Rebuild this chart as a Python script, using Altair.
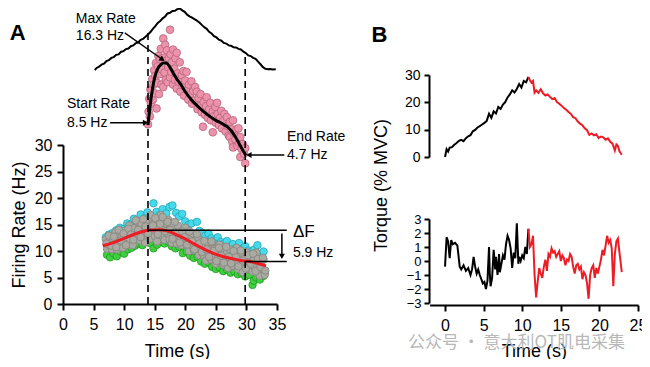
import altair as alt
import pandas as pd

FONT = "Liberation Sans"

# ---------------- data ----------------
# Panel A: torque trace (% MVC) drawn above the firing-rate plot
torque_a = [(5.2,0.0),(5.5,1.0),(5.9,1.6),(6.3,2.6),(6.7,3.1),(7.1,4.3),(7.5,4.8),(7.9,5.9),(8.3,6.3),
            (8.7,7.4),(9.1,7.6),(9.5,8.9),(9.9,9.2),(10.3,10.2),(10.7,10.5),(11.1,11.6),(11.5,12.0),
            (11.9,13.1),(12.3,13.4),(12.7,14.7),(13.1,15.2),(13.5,16.2),(13.9,17.3),(14.3,18.5),
            (14.7,20.1),(15.1,21.4),(15.5,23.0),(15.9,23.9),(16.3,25.2),(16.7,26.1),(17.1,27.6),
            (17.5,27.9),(17.9,28.8),(18.3,28.9),(18.7,29.7),(19.1,30.0),(19.5,29.1),(19.9,28.4),
            (20.3,27.0),(20.7,26.2),(21.1,25.5),(21.5,24.8),(21.9,24.1),(22.3,23.2),(22.7,22.0),
            (23.1,20.9),(23.5,20.1),(23.9,18.6),(24.3,17.8),(24.7,16.5),(25.1,15.9),(25.5,14.8),
            (25.9,14.3),(26.3,13.2),(26.7,12.9),(27.1,12.0),(27.5,11.8),(27.9,11.1),(28.3,11.0),
            (28.7,10.3),(29.1,10.0),(29.5,8.9),(29.9,8.3),(30.3,7.1),(30.7,6.8),(31.1,5.9),(31.5,5.4),
            (31.9,4.1),(32.3,2.8),(32.7,1.4),(33.1,0.6),(33.5,0.4),(33.9,0.5),(34.3,0.3),(34.8,0.4)]

# Panel A: single motor unit (pink), rate in Hz
pink_units = [(13.9,8.6),(14.0,10.2),(14.1,11.8),(14.2,9.6),(14.3,13.0),(14.4,11.2),(14.5,12.9),
              (14.6,14.3),(14.7,11.7),(14.8,13.6),(14.9,15.4),(15.0,12.5),(15.1,14.7),(15.2,16.3),
              (15.3,10.6),(15.4,13.8),(15.5,15.9),(15.6,17.2),(15.7,12.4),(15.8,14.9),(15.9,16.8),
              (16.0,18.1),(16.1,13.6),(16.2,15.5),(16.4,19.4),(16.4,13.3),(16.5,17.0),(16.6,15.1),
              (16.7,18.6),(16.8,14.2),(16.9,16.6),(17.0,17.9),(17.1,13.9),(17.2,15.8),(17.3,16.9),
              (17.5,20.5),(17.5,14.5),(17.6,17.4),(17.7,15.2),(17.8,16.4),(18.0,18.0),(18.0,13.6),
              (18.2,15.6),(18.3,14.2),(18.4,16.9),(18.6,17.6),(18.6,13.1),(18.8,15.0),(18.9,14.0),
              (19.1,16.4),(19.2,12.7),(19.4,14.8),(19.5,13.5),(19.7,15.3),(19.8,12.2),(20.0,14.1),
              (20.2,15.2),(20.3,12.9),(20.5,11.7),(20.6,13.6),(20.8,12.4),(21.0,14.0),(21.1,11.2),
              (21.3,12.8),(21.5,11.6),(21.6,13.3),(21.9,12.7),(22.0,10.5),(22.2,11.9),(22.4,10.9),
              (22.5,12.4),(22.7,10.1),(22.9,8.3),(23.0,11.4),(23.2,9.8),(23.4,10.9),(23.5,12.0),
              (23.7,9.4),(23.9,10.5),(24.1,11.3),(24.2,9.1),(24.5,7.6),(24.5,10.2),(24.7,9.6),
              (24.9,10.8),(25.0,8.8),(25.2,11.3),(25.3,9.9),(25.5,8.5),(25.7,9.4),(25.9,10.3),
              (26.0,8.1),(26.2,9.0),(26.4,9.9),(26.6,7.7),(26.8,9.5),(26.9,8.4),(27.1,7.2),(27.3,8.9),
              (27.3,7.0),(27.5,8.0),(27.7,6.4),(27.8,9.1),(27.8,5.7),(28.0,7.5),(28.2,6.7),(28.4,8.0),
              (28.5,5.9),(28.7,8.1),(28.8,6.3),(29.0,7.0),(29.0,4.5),(29.2,5.5),(29.4,6.1),(29.6,4.9),
              (29.8,3.7),(29.8,5.6)]

rate_fit = [(13.9,8.5),(14.2,10.6),(14.6,12.9),(15.0,14.5),(15.5,15.6),(16.0,16.1),(16.5,16.3),
            (16.9,16.3),(17.4,15.9),(18.0,15.1),(18.6,14.3),(19.2,13.7),(20.0,12.7),(21.0,11.7),
            (22.0,10.9),(23.0,10.2),(24.0,9.6),(25.0,9.1),(26.0,8.7),(27.0,8.2),(27.6,7.7),
            (28.2,7.0),(28.8,6.2),(29.3,5.5),(29.9,4.7)]

cyan_units = [(7.0,12.6),(7.5,13.1),(8.1,13.4),(8.7,13.9),(9.3,14.4),(9.9,14.1),(10.5,15.2),(11.1,15.0),
              (11.6,16.1),(12.2,15.7),(12.7,16.9),(13.3,16.2),(13.8,17.3),(14.3,16.6),(14.8,19.0),
              (15.3,17.4),(15.8,16.8),(16.3,17.9),(16.9,17.1),(17.4,18.3),(17.9,18.6),(18.5,17.2),
              (19.0,16.5),(19.5,17.0),(20.0,15.6),(20.5,14.9),(21.0,15.2),(21.9,15.5),(22.3,13.8),
              (22.8,13.4),(23.3,12.9),(23.8,13.3),(24.3,12.4),(24.8,12.0),(25.3,12.6),(25.8,11.7),
              (26.3,11.4),(26.8,11.9),(27.3,10.9),(27.8,11.3),(28.3,10.6),(28.8,11.5),(29.3,10.4),
              (29.8,10.9),(30.3,10.1),(30.8,9.8),(31.3,10.3),(31.8,11.1),(32.3,9.5),(32.8,9.9)]

green_units = [(7.2,9.3),(7.7,8.8),(8.2,9.6),(8.8,9.0),(9.4,9.9),(10.0,9.5),(10.6,10.3),(11.2,10.6),
               (11.8,11.0),(12.4,11.4),(13.0,11.1),(13.6,11.8),(14.2,11.5),(14.8,10.5),(15.4,11.2),
               (16.0,12.0),(16.6,11.4),(17.2,11.8),(17.8,10.9),(18.4,10.5),(19.0,10.8),(19.6,9.6),
               (20.2,9.9),(20.8,9.1),(21.4,8.7),(22.0,8.9),(22.6,8.0),(23.2,7.6),(23.8,7.9),(24.4,7.0),
               (25.0,6.6),(25.6,6.9),(26.2,6.2),(26.8,6.5),(27.4,5.9),(28.0,6.2),(28.6,5.6),(29.2,5.8),
               (29.8,5.2),(30.4,5.5),(31.0,3.6),(31.2,4.4),(31.6,5.0),(32.2,4.6),(32.8,5.3),(33.0,6.0)]

grey_units = [(7.0,12.2),(7.2,10.4),(7.4,11.7),(7.6,11.1),(7.8,12.9),(8.0,10.3),(8.2,12.2),(8.4,11.2),
              (8.6,13.6),(8.8,10.3),(9.0,12.1),(9.2,13.1),(9.4,11.2),(9.6,12.7),(9.8,10.6),(10.0,13.8),
              (10.2,12.1),(10.4,13.5),(10.6,11.4),(10.8,14.8),(11.0,12.2),(11.2,13.2),(11.4,11.1),
              (11.6,14.3),(11.8,12.4),(12.0,15.6),(12.2,13.2),(12.4,14.2),(12.6,12.0),(12.8,15.2),
              (13.0,12.9),(13.2,14.1),(13.4,11.6),(13.6,15.7),(13.8,13.0),(14.0,14.5),(14.2,12.3),
              (14.4,16.3),(14.6,13.7),(14.8,15.1),(15.0,12.8),(15.2,14.2),(15.4,11.8),(15.6,15.7),
              (15.8,13.5),(16.0,16.8),(16.2,12.9),(16.4,14.6),(16.6,12.1),(16.8,15.2),(17.0,13.4),
              (17.2,15.9),(17.4,12.2),(17.6,14.4),(17.8,11.5),(18.0,15.0),(18.2,12.7),(18.4,13.5),
              (18.6,11.4),(18.8,14.8),(19.0,12.0),(19.2,13.3),(19.4,11.1),(19.6,13.9),(19.8,12.2),
              (20.0,14.4),(20.2,11.1),(20.4,12.5),(20.6,10.0),(20.8,13.0),(21.0,11.1),(21.2,13.3),
              (21.4,10.1),(21.6,11.9),(21.8,10.2),(22.0,12.6),(22.2,9.2),(22.4,11.1),(22.6,10.2),
              (22.8,11.8),(23.0,9.2),(23.2,11.1),(23.4,8.2),(23.6,11.6),(23.8,9.4),(24.0,10.3),
              (24.2,8.4),(24.4,11.6),(24.6,8.9),(24.8,10.4),(25.0,7.6),(25.2,10.5),(25.4,8.9),
              (25.6,11.2),(25.8,8.0),(26.0,9.6),(26.2,7.4),(26.4,10.3),(26.6,8.3),(26.8,9.7),
              (27.0,6.8),(27.2,10.4),(27.4,7.8),(27.6,8.9),(27.8,7.2),(28.0,9.6),(28.2,8.0),
              (28.4,10.6),(28.6,6.6),(28.8,9.0),(29.0,7.2),(29.2,9.7),(29.4,6.0),(29.6,8.5),
              (29.8,7.5),(30.0,9.8),(30.2,6.6),(30.4,8.9),(30.6,7.7),(30.8,9.2),(31.0,6.1),
              (31.2,8.3),(31.4,6.8),(31.6,9.7),(31.8,6.4),(32.0,8.4),(32.2,5.3),(32.4,7.8),
              (32.6,6.7),(32.8,8.4),(33.0,5.5),
              (7.1,11.4),(7.5,12.9),(7.9,11.0),(8.3,12.7),(8.7,10.7),(9.1,14.0),(9.5,12.0),(9.9,13.3),
              (10.3,11.1),(10.7,14.2),(11.1,13.1),(11.5,12.1),(11.9,15.8),(12.3,14.0),(12.7,12.6),
              (13.1,16.0),(13.5,14.6),(13.9,13.3),(14.3,16.8),(14.7,14.8),(15.1,16.2),(15.5,13.2),
              (15.9,15.1),(16.3,16.4),(16.7,13.7),(17.1,15.5),(17.5,14.0),(17.9,12.3),(18.3,15.5),
              (18.7,13.5),(19.1,11.6),(19.5,13.7),(19.9,12.6),(20.3,11.2),(20.7,13.7),(21.1,11.8),
              (21.5,10.3),(21.9,13.2),(22.3,11.4),(22.7,9.8),(23.1,11.9),(23.5,10.3),(23.9,8.9),
              (24.3,11.8),(24.7,10.0),(25.1,8.1),(25.5,10.6),(25.9,9.1),(26.3,7.8),(26.7,10.8),
              (27.1,8.9),(27.5,7.7),(27.9,10.0),(28.3,8.8),(28.7,7.1),(29.1,10.1),(29.5,8.2),
              (29.9,6.7),(30.3,9.2),(30.7,7.6),(31.1,9.5),(31.5,6.2),(31.9,8.5),(32.3,7.0),
              (32.7,8.7),(33.1,6.3)]

red_fit = [(6.5,11.0),(8.0,11.5),(10.0,12.4),(12.0,13.3),(14.0,13.9),(15.5,14.0),(17.0,13.8),
           (18.5,13.1),(20.0,12.3),(21.5,11.3),(23.0,10.4),(24.5,9.6),(26.0,9.0),(27.5,8.6),
           (29.0,8.2),(30.5,8.0),(32.0,7.6),(33.2,7.2)]

# Panel B: torque (% MVC), ascending (black) and descending (red) halves
torque_b_up = [(0.0,0.0),(0.2,2.9),(0.4,2.0),(0.6,3.4),(0.9,3.6),(1.2,4.5),(1.5,5.1),(1.8,5.9),
               (2.1,6.3),(2.4,5.8),(2.7,6.9),(3.0,7.6),(3.3,8.0),(3.6,9.4),(3.9,9.9),(4.2,10.8),
               (4.5,11.3),(4.8,11.9),(5.1,12.5),(5.4,13.2),(5.7,15.8),(6.0,14.3),(6.3,16.7),
               (6.6,15.9),(6.9,18.3),(7.2,17.6),(7.5,19.2),(7.8,20.1),(8.1,21.8),(8.4,22.9),
               (8.7,24.4),(9.0,23.6),(9.3,24.9),(9.6,26.7),(9.9,25.4),(10.2,27.8),(10.5,27.3),
               (10.8,29.3)]
torque_b_down = [(10.8,29.3),(11.0,28.1),(11.2,27.2),(11.4,27.8),(11.6,23.6),(11.8,24.4),(12.1,23.5),
                 (12.4,24.8),(12.7,23.3),(13.0,22.5),(13.3,22.9),(13.6,22.0),(13.9,21.2),(14.2,21.6),
                 (14.5,20.1),(14.8,19.5),(15.1,18.8),(15.4,17.9),(15.7,17.3),(16.0,16.5),(16.3,15.8),
                 (16.6,14.6),(16.9,14.2),(17.2,13.0),(17.5,12.2),(17.8,11.6),(18.1,10.5),(18.4,9.8),
                 (18.7,8.1),(19.0,8.6),(19.3,7.9),(19.6,8.3),(19.9,6.9),(20.2,7.5),(20.5,7.2),
                 (20.8,6.3),(21.1,6.8),(21.4,5.6),(21.7,4.9),(22.0,2.4),(22.2,4.6),(22.4,4.0),
                 (22.6,2.1),(22.9,0.8)]

# Panel B: torque fluctuations
fluct_b_up = [(0.0,-0.4),(0.2,1.7),(0.4,1.4),(0.6,0.2),(0.8,1.5),(1.0,1.2),(1.3,1.3),(1.6,1.1),
              (1.9,-0.4),(2.1,-0.6),(2.4,-0.3),(2.7,-0.7),(3.0,-0.5),(3.3,-1.0),(3.5,-0.6),(3.7,0.3),
              (3.9,-0.4),(4.1,-0.9),(4.3,-0.6),(4.5,-1.0),(4.7,-1.3),(4.9,-1.6),(5.1,-1.5),(5.3,-2.0),
              (5.5,-1.4),(5.7,1.0),(5.8,-0.9),(5.9,-1.8),(6.1,-1.2),(6.3,0.8),(6.5,-0.6),(6.6,0.3),
              (6.8,-1.0),(7.0,0.5),(7.1,-0.8),(7.3,-0.2),(7.5,0.4),(7.7,0.1),(7.9,1.2),(8.1,1.8),
              (8.3,1.5),(8.5,0.9),(8.7,-0.5),(8.9,0.6),(9.1,0.2),(9.3,2.7),(9.5,-0.2),(9.6,0.3),
              (9.8,0.0),(10.0,0.4),(10.2,0.2),(10.4,1.0),(10.6,0.5),(10.8,2.3)]
fluct_b_down = [(10.8,2.3),(11.0,1.0),(11.2,1.2),(11.4,1.8),(11.6,-1.0),(11.8,-2.6),(12.0,-1.5),
                (12.2,-0.5),(12.4,-0.9),(12.6,-1.2),(12.8,-0.4),(13.0,0.1),(13.2,-0.7),(13.4,0.5),
                (13.6,0.3),(13.8,0.9),(14.0,0.6),(14.2,0.7),(14.4,0.3),(14.6,0.5),(14.8,0.7),
                (15.0,0.0),(15.2,0.4),(15.4,0.2),(15.6,-0.3),(15.8,0.1),(16.0,0.0),(16.2,0.5),
                (16.4,0.3),(16.6,-0.4),(16.8,-0.9),(17.0,-0.3),(17.2,-0.2),(17.4,-0.6),(17.6,-0.4),
                (17.8,-1.3),(18.0,-0.8),(18.2,-1.0),(18.4,-1.6),(18.6,-2.7),(18.8,-1.0),(19.0,-0.5),
                (19.2,-0.3),(19.4,-1.2),(19.6,-0.5),(19.8,-0.9),(20.0,-0.4),(20.2,0.1),(20.4,0.8),
                (20.6,0.4),(20.8,1.1),(21.0,1.8),(21.2,1.3),(21.4,1.5),(21.6,0.9),(21.8,-1.8),
                (22.0,0.5),(22.2,1.4),(22.4,1.6),(22.6,0.6),(22.9,-0.8)]

# reference times / rates used by annotations
t_start, t_end = 13.9, 29.8
peak_rate, end_rate = 13.9, 8.0

x_ticks_a = [0, 5, 10, 15, 20, 25, 30, 35]
y_ticks_a = [0, 5, 10, 15, 20, 25, 30]
x_ticks_b = [0, 5, 10, 15, 20, 25]
y_ticks_b_top = [0, 10, 20, 30]
y_ticks_b_bot = [-3, -2, -1, 0, 1, 2, 3]

# ---------------- scales (domain -> pixel range inside the view) ----------------
XA = ([0, 35], [0, 214])
YHZ = ([0, 30], [296, 137])
YPINK = ([0, 20], [184.7, 25.7])
YTQA = ([0, 30], [62, 0.5])
XB = ([-2, 25], [366.6, 575])
YBT = ([0, 30], [149, 67])
YBB = ([-3, 3], [295, 211])


def sc(s):
    return alt.Scale(domain=s[0], range=s[1], nice=False, zero=False)


def X(f, s, axis=None):
    return alt.X(f, type="quantitative", scale=sc(s), axis=axis)


def Y(f, s, axis=None):
    return alt.Y(f, type="quantitative", scale=sc(s), axis=axis)


def frame(pairs, a="t", b="v"):
    return pd.DataFrame(pairs, columns=[a, b])


def line(pairs, xs, ys, color, width=2, interp="linear", xaxis=None, yaxis=None):
    return alt.Chart(frame(pairs)).mark_line(color=color, strokeWidth=width, interpolate=interp).encode(
        x=X("t", xs, xaxis), y=Y("v", ys, yaxis), order="idx:Q"
    ).transform_window(idx="row_number()")


def dots(pairs, fill, stroke, xaxis=None, yaxis=None, ys=YHZ, size=56):
    return alt.Chart(frame(pairs)).mark_circle(size=size, color=fill, stroke=stroke, strokeWidth=0.8,
                                               opacity=1).encode(
        x=X("t", XA, xaxis), y=Y("v", ys, yaxis)
    )


def texts(rows, xs, ys, size=14, weight="normal", color="black", font=FONT, align="left"):
    d = pd.DataFrame(rows, columns=["t", "v", "label"])
    return alt.Chart(d).mark_text(align=align, baseline="middle", fontSize=size, fontWeight=weight,
                                  color=color, font=font).encode(
        x=X("t", xs), y=Y("v", ys), text="label:N")


def segs(rows, xs, ys, dash=None, width=1.5):
    d = pd.DataFrame(rows, columns=["t", "v", "t2", "v2"])
    kw = dict(color="black", strokeWidth=width)
    if dash:
        kw["strokeDash"] = dash
    return alt.Chart(d).mark_rule(**kw).encode(x=X("t", xs), y=Y("v", ys), x2="t2", y2="v2")


def heads(rows, xs, ys):
    d = pd.DataFrame(rows, columns=["t", "v", "shape", "ang"])
    return alt.Chart(d).mark_point(filled=True, color="black", size=38, opacity=1).encode(
        x=X("t", xs), y=Y("v", ys), shape=alt.Shape("shape:N", scale=None), angle=alt.Angle("ang:Q", scale=None))


common = dict(domainColor="black", tickColor="black", labelColor="black", titleColor="black",
              labelFont=FONT, titleFont=FONT, grid=False, labelFlush=False, labelOverlap=False,
              domainWidth=2, tickWidth=2, titleFontWeight="normal")

axA_x = alt.Axis(orient="bottom", values=x_ticks_a, title="Time (s)", tickSize=6, labelFontSize=16,
                 labelPadding=6, titleFontSize=18, titleX=114, titleY=38, **common)
axA_y = alt.Axis(orient="left", values=y_ticks_a, title="Firing Rate (Hz)", tickSize=6, labelFontSize=16,
                 labelPadding=5, titleFontSize=18, titlePadding=6, **common)
axB_x = alt.Axis(orient="bottom", offset=1, values=x_ticks_b, title="Time (s)", tickSize=6, labelFontSize=16,
                 labelPadding=6, titleFontSize=18, titleY=37, **common)
axB_yt = alt.Axis(orient="left", offset=-366, values=y_ticks_b_top, title="Torque (% MVC)", tickSize=5,
                  labelFontSize=14, labelPadding=4, titleFontSize=18, titleX=-39, titleY=177, **common)
axB_yb = alt.Axis(orient="left", offset=-366, values=y_ticks_b_bot, title=None, tickSize=5,
                  labelFontSize=13, labelPadding=3, **common)

layers = [
    # panel A torque trace
    line(torque_a, XA, YTQA, "black", 2),
    # single motor unit + fit
    dots(pink_units, "#ec93ab", "#b8637c", ys=YPINK, size=60),
    line(rate_fit, XA, YPINK, "black", 3, "monotone"),
    # pooled units
    dots(cyan_units, "#46d9ea", "#25a6b6"),
    dots(green_units, "#3fd03f", "#229922"),
    dots(grey_units, "#aaa9a2", "#85857f", xaxis=axA_x, yaxis=axA_y),
    line(red_fit, XA, YHZ, "#ee1c24", 3, "monotone"),
    # dashed markers at start/end of recruitment window
    segs([(t_start, 0, t_start, 51.9), (t_end, 0, t_end, 47.5)], XA, YHZ, dash=[7, 5], width=1.6),
    # delta F bracket
    segs([(t_start, peak_rate, 36.6, peak_rate), (t_end, end_rate, 36.6, end_rate),
          (35.8, 13.3, 35.8, 9.2)], XA, YHZ),
    heads([(35.8, 9.0, "triangle-down", 0)], XA, YHZ),
    texts([(37.6, 13.5, "\u0394F")], XA, YHZ, size=17),
    texts([(37.6, 9.6, "5.9 Hz")], XA, YHZ, size=14),
    # arrows for start/max/end rates (in single-unit scale)
    segs([(7.7, 8.8, 13.4, 8.8), (36.2, 4.74, 30.6, 4.74), (10.1, 20.1, 16.1, 16.85)], XA, YPINK, width=1.3),
    heads([(13.5, 8.8, "triangle-right", 0), (30.4, 4.74, "triangle-left", 0),
           (16.25, 16.75, "triangle-right", 36)], XA, YPINK),
    texts([(2.1, 21.9, "Max Rate"), (2.1, 19.65, "16.3 Hz"), (0.65, 11.16, "Start Rate"),
           (0.65, 8.83, "8.5 Hz"), (36.64, 7.0, "End Rate"), (36.64, 4.74, "4.7 Hz")], XA, YPINK, size=14),
    texts([(-7.4, 20.1, "A")], XA, YPINK, size=22, weight="bold", align="center"),
    # panel B
    line(torque_b_up, XB, YBT, "black", 2, yaxis=axB_yt),
    line(torque_b_down, XB, YBT, "#ee1c24", 2),
    line(fluct_b_up, XB, YBB, "black", 2, xaxis=axB_x, yaxis=axB_yb),
    line(fluct_b_down, XB, YBB, "#ee1c24", 2),
    texts([(-8.5, 44.6, "B")], XB, YBT, size=22, weight="bold", align="center"),
    texts([(-4.8, -5.86, "\u516c\u4f17\u53f7 \u00b7 \u610f\u5927\u5229OT\u808c\u7535\u91c7\u96c6")], XB, YBB,
          size=17, color="#b8b8b8", font="Noto Sans CJK SC"),
]

chart = alt.layer(*layers).resolve_scale(x="independent", y="independent").properties(
    width=570, height=296,
    autosize=alt.AutoSizeParams(type="none"),
    padding={"left": 55, "top": 0, "right": 9, "bottom": 55},
).configure_view(stroke=None)

chart.save("out.html", embed_options={"renderer": "svg", "actions": False})
